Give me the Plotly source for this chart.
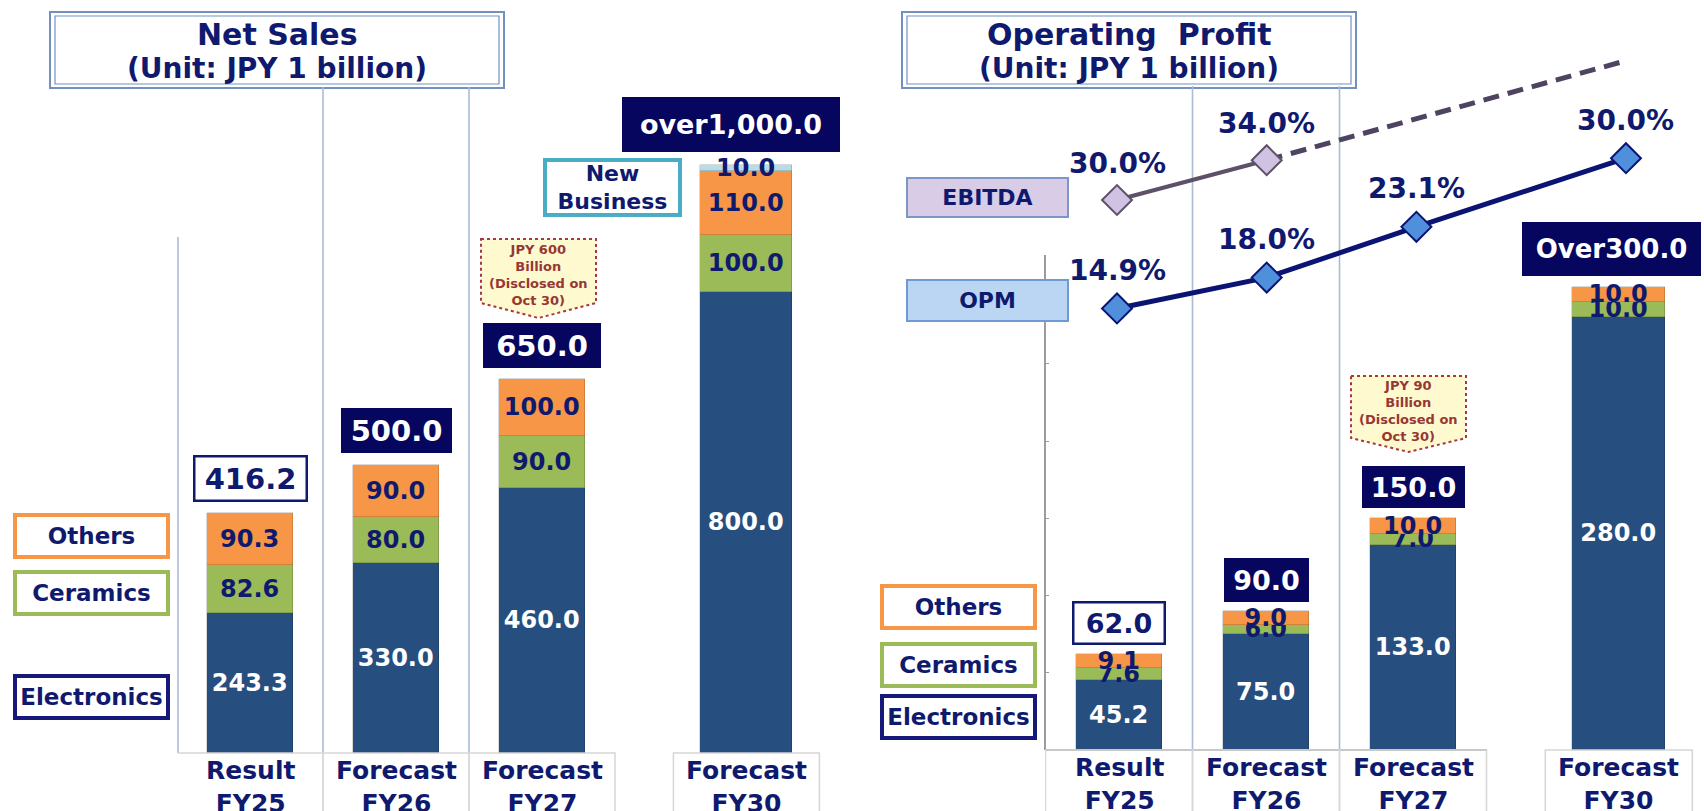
import plotly.graph_objects as go

# ---------------- data ----------------
CAT_TOP = ["Result", "Forecast", "Forecast", "Forecast"]
CAT_FY = ["FY25", "FY26", "FY27", "FY30"]

NS_ELEC = [243.3, 330.0, 460.0, 800.0]
NS_CER = [82.6, 80.0, 90.0, 100.0]
NS_OTH = [90.3, 90.0, 100.0, 110.0]
NS_NEW = [None, None, None, 10.0]
NS_TOTAL_LABELS = ["416.2", "500.0", "650.0", "over1,000.0"]

OP_ELEC = [45.2, 75.0, 133.0, 280.0]
OP_CER = [7.6, 6.0, 7.0, 10.0]
OP_OTH = [9.1, 9.0, 10.0, 10.0]
OP_TOTAL_LABELS = ["62.0", "90.0", "150.0", "Over300.0"]

OPM = [14.9, 18.0, 23.1, 30.0]
EBITDA = [30.0, 34.0, None, None]
EBITDA_TREND = [None, 34.0, None, 44.0]   # dashed projection (unlabelled)

# ---------------- layout / style constants ----------------
W, H = 1704, 811
FONT = "DejaVu Sans"
NAVY = "#0F1A6E"
NAVY_FILL = "#06065F"
ELEC_C, CER_C, OTH_C, NEW_C = "#264F80", "#9BBB59", "#F79646", "#B7DDE8"
SEP_C = "#A9BCD6"

X_POS = [0, 1, 2, 3.4]
BAR_W = [0.59, 0.59, 0.59, 0.63]

# pixel calibration of the panels
L_X0, L_UNIT, L_BASE, L_SCALE = 250, 146, 753, 0.576
R_X0, R_UNIT, R_BASE, R_SCALE = 1119, 147, 750, 1.545
LN_X0, LN_UNIT = 1117, 149.7
PCT_PX = 9.95
OPM_ZERO_PX, EBITDA_ZERO_PX = 456.7, 498.5


def px(x):
    return x / W


def py(y):
    return 1 - y / H


def xrange_(d0, d1, x0, unit):
    return [(d0 - x0) / unit, (d1 - x0) / unit]


def yrange_(top, bot, base, scale):
    return [(base - bot) / scale, (base - top) / scale]


fig = go.Figure()


def add_stack(xa, ya, series):
    for vals, color, tcol in series:
        fig.add_trace(go.Bar(
            x=X_POS, y=vals, width=BAR_W, xaxis=xa, yaxis=ya,
            marker=dict(color=color, line=dict(width=0.6, color="rgba(0,0,0,0.25)")),
            text=["" if v is None else f"{v:.1f}" for v in vals],
            textposition="inside", insidetextanchor="middle", textangle=0,
            constraintext="none",
            textfont=dict(family=FONT, size=24, color=tcol, weight="bold"),
            showlegend=False, hoverinfo="skip"))


add_stack("x", "y", [(NS_ELEC, ELEC_C, "white"), (NS_CER, CER_C, NAVY),
                     (NS_OTH, OTH_C, NAVY), (NS_NEW, NEW_C, NAVY)])
add_stack("x2", "y2", [(OP_ELEC, ELEC_C, "white"), (OP_CER, CER_C, NAVY),
                       (OP_OTH, OTH_C, NAVY)])

# ratio lines
fig.add_trace(go.Scatter(
    x=X_POS, y=EBITDA_TREND, xaxis="x3", yaxis="y4", mode="lines", connectgaps=True,
    line=dict(color="#4E4360", width=5, dash="16px,9px"), showlegend=False, hoverinfo="skip"))
fig.add_trace(go.Scatter(
    x=X_POS, y=EBITDA, xaxis="x3", yaxis="y4", mode="lines+markers",
    line=dict(color="#5E5068", width=4),
    marker=dict(symbol="diamond", size=23, color="#CFC2E2", line=dict(color="#5E5068", width=2)),
    showlegend=False, hoverinfo="skip"))
fig.add_trace(go.Scatter(
    x=X_POS, y=OPM, xaxis="x3", yaxis="y3", mode="lines+markers",
    line=dict(color="#0B1473", width=5),
    marker=dict(symbol="diamond", size=23, color="#4F8FDB", line=dict(color="#0B1473", width=2)),
    showlegend=False, hoverinfo="skip"))

annotations = []
shapes = []


def box_ann(text, x, y, w, h, xref="paper", yref="paper", bg="white", border=NAVY,
            bw=2, size=24, color=NAVY, xshift=0, yshift=0):
    annotations.append(dict(
        text=text, x=x, y=y, xref=xref, yref=yref, showarrow=False,
        xanchor="center", yanchor="middle", xshift=xshift, yshift=yshift,
        width=max(w - 2 * bw, 1), height=max(h - 2 * bw, 1), borderpad=0,
        bgcolor=bg, bordercolor=border, borderwidth=bw, align="center", valign="middle",
        font=dict(family=FONT, size=size, color=color, weight="bold")))


def text_ann(text, x, y, size, color=NAVY, xref="paper", yref="paper", yshift=0):
    annotations.append(dict(
        text=text, x=x, y=y, xref=xref, yref=yref, showarrow=False,
        xanchor="center", yanchor="middle", yshift=yshift,
        font=dict(family=FONT, size=size, color=color, weight="bold")))


def rect(x0, y0, x1, y1, color, width, fill="rgba(0,0,0,0)"):
    shapes.append(dict(type="rect", xref="paper", yref="paper",
                       x0=px(x0), x1=px(x1), y0=py(y0), y1=py(y1),
                       line=dict(color=color, width=width), fillcolor=fill, layer="below"))


def vline(xref, x, y0, y1, color, width):
    shapes.append(dict(type="line", xref=xref, yref="paper", x0=x, x1=x,
                       y0=py(y0), y1=py(y1), line=dict(color=color, width=width), layer="below"))


# ---- title boxes ----
for x0, x1, t1 in [(50, 504, "Net Sales"), (902, 1356, "Operating\u00a0\u00a0Profit")]:
    rect(x0, 12, x1, 88, "#7391C0", 2, "white")
    rect(x0 + 5, 16, x1 - 5, 84, "#7391C0", 1.2)
    text_ann(t1, px((x0 + x1) / 2), py(34), 30)
    text_ann("(Unit: JPY 1 billion)", px((x0 + x1) / 2), py(69), 28)

# ---- separators & axis lines ----
for xref, top in [("x", 87), ("x2", 86)]:
    for xs in (0.5, 1.5):
        vline(xref, xs, top, L_BASE if xref == "x" else R_BASE, SEP_C, 1.6)
shapes.append(dict(type="line", xref="paper", yref="paper", x0=px(178), x1=px(178),
                   y0=py(237), y1=py(L_BASE), line=dict(color=SEP_C, width=1.6)))
shapes.append(dict(type="line", xref="paper", yref="paper", x0=px(1045), x1=px(1045),
                   y0=py(255), y1=py(R_BASE), line=dict(color="#9C9C9C", width=2)))
shapes.append(dict(type="line", xref="paper", yref="paper", x0=px(1045), x1=px(1487),
                   y0=py(R_BASE), y1=py(R_BASE), line=dict(color="#9C9C9C", width=2)))

# ---- category boxes and labels ----
for xref, base in [("x", L_BASE), ("x2", R_BASE)]:
    for i, xp in enumerate(X_POS):
        shapes.append(dict(type="rect", xref=xref, yref="paper", x0=xp - 0.5, x1=xp + 0.5,
                           y0=-0.05, y1=py(base), line=dict(color="#D6D6D6", width=1.5),
                           fillcolor="rgba(0,0,0,0)"))
        annotations.append(dict(
            text=f"{CAT_TOP[i]}<br>{CAT_FY[i]}", x=xp, y=py(base), xref=xref, yref="paper",
            showarrow=False, xanchor="center", yanchor="top", yshift=-1,
            font=dict(family=FONT, size=25, color=NAVY, weight="bold")))

# ---- total boxes ----
def totals(vals_list):
    out = []
    for i in range(len(X_POS)):
        out.append(sum(v[i] for v in vals_list if v[i] is not None))
    return out


ns_tot = totals([NS_ELEC, NS_CER, NS_OTH, NS_NEW])
op_tot = totals([OP_ELEC, OP_CER, OP_OTH])
NS_BOX = [(115, 47, 35, 0), (111, 45, 35, 0), (118, 45, 33, 0), (218, 55, 41, -15)]
OP_BOX = [(94, 44, 31, 0), (85, 44, 31, 0), (103, 42, 31, 0), (179, 54, 38, -7)]
for i, lab in enumerate(NS_TOTAL_LABELS):
    w, h, ys, xs = NS_BOX[i]
    first = i == 0
    box_ann(lab, X_POS[i], ns_tot[i], w, h, xref="x", yref="y",
            bg="white" if first else NAVY_FILL, border=NAVY if first else NAVY_FILL,
            bw=2.5 if first else 1, size=29 if i < 3 else 27,
            color=NAVY if first else "white", xshift=xs, yshift=ys)
for i, lab in enumerate(OP_TOTAL_LABELS):
    w, h, ys, xs = OP_BOX[i]
    first = i == 0
    box_ann(lab, X_POS[i], op_tot[i], w, h, xref="x2", yref="y2",
            bg="white" if first else NAVY_FILL, border=NAVY if first else NAVY_FILL,
            bw=2.5 if first else 1, size=27 if i < 3 else 26,
            color=NAVY if first else "white", xshift=xs, yshift=ys)

# ---- segment legend boxes ----
for cx, rows in [(91.5, [("Others", OTH_C, 536), ("Ceramics", CER_C, 593), ("Electronics", "#17197A", 697)]),
                 (958.5, [("Others", OTH_C, 607), ("Ceramics", CER_C, 665), ("Electronics", "#17197A", 716.5)])]:
    for lab, col, cy in rows:
        box_ann(lab, px(cx), py(cy), 157, 46, bg="white", border=col, bw=4, size=23)

# ---- New Business / EBITDA / OPM labels ----
box_ann("New<br>Business", px(612.5), py(187.5), 139, 59, bg="white", border="#4BACC6", bw=4, size=22)
box_ann("EBITDA", px(987.5), py(197.5), 163, 41, bg="#D8CCE6", border="#7C97C6", bw=2, size=22)
box_ann("OPM", px(987.5), py(300.5), 163, 43, bg="#BBD6F3", border="#6E9BD3", bw=2, size=22)

# ---- "disclosed" callouts ----
for (x0, x1, top, side, tip, label, ty) in [
        (481, 596, 239, 303, 318, "JPY 600<br>Billion<br>(Disclosed on<br>Oct 30)", 275),
        (1351, 1466, 376, 438, 452, "JPY 90<br>Billion<br>(Disclosed on<br>Oct 30)", 411)]:
    xm = (x0 + x1) / 2
    path = (f"M {px(x0)} {py(top)} L {px(x1)} {py(top)} L {px(x1)} {py(side)} "
            f"L {px(xm)} {py(tip)} L {px(x0)} {py(side)} Z")
    shapes.append(dict(type="path", xref="paper", yref="paper", path=path,
                       fillcolor="#FFF9CF", line=dict(color="#A8383A", width=2, dash="dot")))
    text_ann(label, px(xm), py(ty), 13, color="#953735")

# ---- percentage labels ----
for xp, v in zip(X_POS, OPM):
    text_ann(f"{v:.1f}%", xp, v, 28, xref="x3", yref="y3", yshift=38)
for xp, v in zip(X_POS, EBITDA):
    if v is not None:
        text_ann(f"{v:.1f}%", xp, v, 28, xref="x3", yref="y4", yshift=37)

hidden = dict(visible=False, fixedrange=True)
fig.update_layout(
    width=W, height=H, margin=dict(l=0, r=0, t=0, b=0),
    paper_bgcolor="white", plot_bgcolor="rgba(0,0,0,0)",
    barmode="stack", bargap=0, showlegend=False,
    font=dict(family=FONT, color=NAVY),
    xaxis=dict(domain=[px(178), px(850)], range=xrange_(178, 850, L_X0, L_UNIT),
               anchor="y", **hidden),
    yaxis=dict(domain=[py(763), py(0)], range=yrange_(0, 763, L_BASE, L_SCALE),
               anchor="x", **hidden),
    xaxis2=dict(domain=[px(1045), px(1704)], range=xrange_(1045, 1704, R_X0, R_UNIT),
                anchor="y2", **hidden),
    yaxis2=dict(domain=[py(760), py(0)], range=yrange_(0, 760, R_BASE, R_SCALE),
                anchor="x2", showgrid=False, zeroline=False, showline=False,
                showticklabels=False, ticks="inside", ticklen=4, tickcolor="#9C9C9C",
                tickvals=[50, 100, 150, 200, 250, 300], fixedrange=True),
    xaxis3=dict(domain=[px(1040), px(1704)], range=xrange_(1040, 1704, LN_X0, LN_UNIT),
                anchor="y3", **hidden),
    yaxis3=dict(domain=[0, 1], range=[(OPM_ZERO_PX - H) / PCT_PX, OPM_ZERO_PX / PCT_PX],
                anchor="x3", **hidden),
    yaxis4=dict(range=[(EBITDA_ZERO_PX - H) / PCT_PX, EBITDA_ZERO_PX / PCT_PX],
                overlaying="y3", anchor="x3", **hidden),
    annotations=annotations, shapes=shapes,
)

fig.write_html("out.html", config={"displayModeBar": False},
               post_script="document.body.style.margin='0';")
